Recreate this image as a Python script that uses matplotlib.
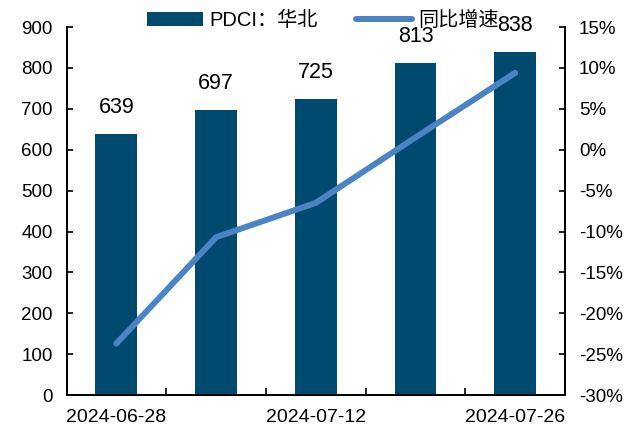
import matplotlib.pyplot as plt
from matplotlib.ticker import FuncFormatter, FixedLocator
import numpy as np

plt.rcParams['font.family'] = ['Liberation Sans', 'Noto Sans CJK SC']

dates = ['2024-06-28', '2024-07-05', '2024-07-12', '2024-07-19', '2024-07-26']
pdci_north = [639, 697, 725, 813, 838]
yoy_pct = [-23.7, -10.7, -6.5, 1.5, 9.4]

bar_color = '#004A6F'
line_color = '#4A84C4'

fig = plt.figure(figsize=(6.31, 4.29), dpi=100)
ax = fig.add_axes([0.1054, 0.079, 0.7900, 0.858])
ax2 = ax.twinx()

x = np.arange(len(dates))
bars = ax.bar(x, pdci_north, width=0.42, color=bar_color, label='PDCI：华北', zorder=2)
for xi, v in zip(x, pdci_north):
    ax.annotate(f'{v}', (xi, v), xytext=(0, 11.5), textcoords='offset points',
                ha='center', va='bottom', fontsize=15.5)

line, = ax2.plot(x, yoy_pct, color=line_color, lw=4.3, solid_capstyle='round',
                 label='同比增速', zorder=3)

ax.set_xlim(-0.5, len(dates) - 0.5)
ax.set_ylim(0, 900)
ax.set_yticks(range(0, 901, 100))
ax2.set_ylim(-30, 15)
ax2.set_yticks(range(-30, 16, 5))
ax2.yaxis.set_major_formatter(FuncFormatter(lambda v, p: f'{v:.0f}%'))

ax.set_xticks(x[::2])
ax.set_xticklabels(dates[::2])
ax.xaxis.set_minor_locator(FixedLocator(np.arange(-0.5, len(dates), 1.0)))
ax.tick_params(axis='x', which='major', length=0, pad=10, labelsize=14)
ax.tick_params(axis='x', which='minor', direction='in', length=5, width=1.2)
ax.tick_params(axis='y', direction='in', length=4, width=1.2, labelsize=13.5, pad=10)
ax2.tick_params(axis='y', direction='in', length=4, width=1.2, labelsize=13.5, pad=10)

for a in (ax, ax2):
    a.spines['top'].set_visible(False)
    for s in ('left', 'right', 'bottom'):
        a.spines[s].set_linewidth(1.3)

ax.set_zorder(ax2.get_zorder() - 1)
ax2.patch.set_visible(False)

fig.legend([bars, line], ['PDCI：华北', '同比增速'], loc='center',
           bbox_to_anchor=(323 / 631, 1 - 20 / 429), ncol=2, frameon=False,
           fontsize=14.5, handlelength=2.8, handletextpad=0.3, columnspacing=1.9)

fig.savefig('out.png', dpi=100)
